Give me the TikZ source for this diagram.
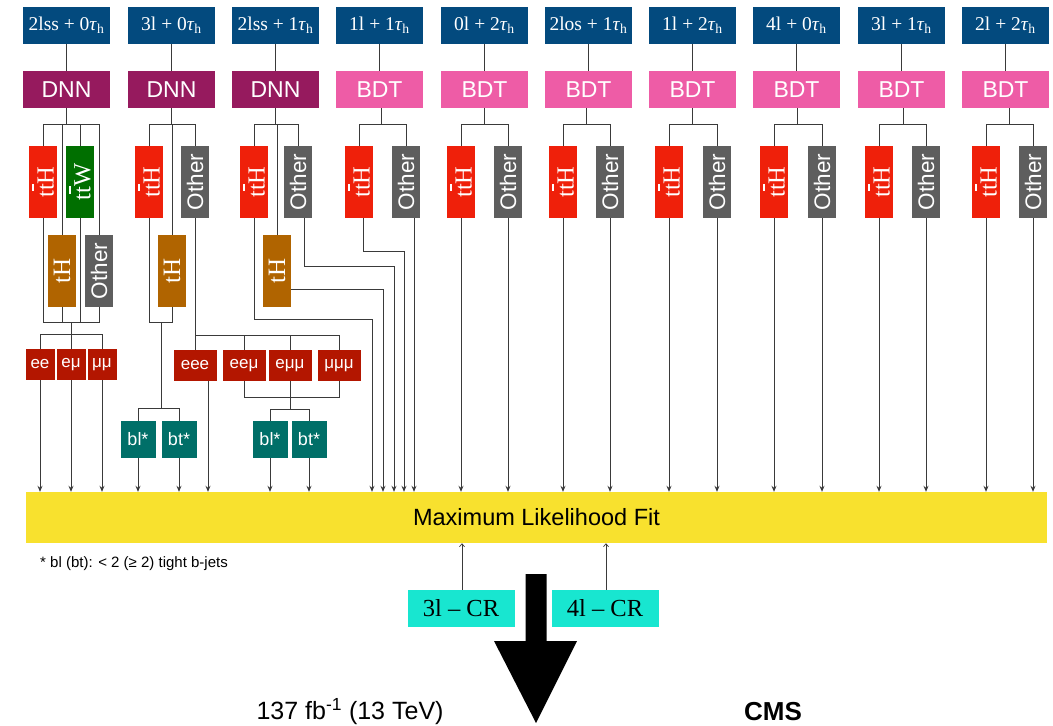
\documentclass[tikz,border=0pt]{standalone}
\usepackage{fontspec}
\setmainfont{Liberation Serif}
\setsansfont{Liberation Sans}
\usetikzlibrary{arrows.meta}
\definecolor{catblue}{HTML}{034A7E}
\definecolor{dnnc}{HTML}{961A5E}
\definecolor{bdtc}{HTML}{EE5CA6}
\definecolor{tthc}{HTML}{EF200A}
\definecolor{ttwc}{HTML}{006F00}
\definecolor{thc}{HTML}{B06400}
\definecolor{othc}{HTML}{5E5E5E}
\definecolor{lepc}{HTML}{B31600}
\definecolor{bjc}{HTML}{006F68}
\definecolor{fitc}{HTML}{F8E12E}
\definecolor{crc}{HTML}{18E6D0}
\definecolor{linec}{HTML}{3A3A3A}
\newcommand\tbar{\rlap{\raisebox{0.8em}{\rule{0.3em}{0.07em}}}t}
\newcommand\tauh{\textit{τ}\textsubscript{h}}
\begin{document}
\begin{tikzpicture}[x=1pt,y=-1pt,
  catbox/.style={fill=catblue, text=white, minimum width=87, minimum height=37, inner sep=0, font=\fontsize{19.5}{20}\selectfont},
  dnnbox/.style={fill=dnnc, text=white, minimum width=87, minimum height=37, inner sep=0, font=\sffamily\fontsize{23}{24}\selectfont},
  bdtbox/.style={dnnbox, fill=bdtc},
  vbox/.style={minimum width=28, minimum height=72, inner sep=0, text=white},
  tthbox/.style={vbox, fill=tthc, font=\fontsize{24.5}{25}\selectfont},
  ttwbox/.style={vbox, fill=ttwc, font=\fontsize{24.5}{25}\selectfont},
  thbox/.style={vbox, fill=thc, font=\fontsize{25}{25}\selectfont},
  othbox/.style={vbox, fill=othc, font=\sffamily\fontsize{22.5}{23}\selectfont},
  lepbox/.style={fill=lepc, text=white, minimum height=31, inner sep=0, font=\sffamily\fontsize{17}{17}\selectfont},
  bjbox/.style={fill=bjc, text=white, minimum width=35, minimum height=37, inner sep=0, font=\sffamily\fontsize{18}{18}\selectfont},
  crbox/.style={fill=crc, text=black, minimum width=107, minimum height=37, inner sep=0, font=\fontsize{24.5}{25}\selectfont},
  ln/.style={draw=linec, line width=1pt},
  arr/.style={ln, -{Stealth[length=6pt,width=5pt]}},
  crarr/.style={ln, line width=0.7pt, -{Straight Barb[length=3pt,width=5pt]}}
]
\useasboundingbox (0,0) rectangle (1053,726);

% fit bar
\node[fill=fitc, minimum width=1021, minimum height=51, inner sep=0, font=\sffamily\fontsize{23.5}{24}\selectfont] (fit) at (536.5,517.5) {Maximum Likelihood Fit};

% category boxes
\node[catbox] (c1) at (66.5,25.5) {2lss + 0\tauh};
\node[catbox] (c2) at (171.5,25.5) {3l + 0\tauh};
\node[catbox] (c3) at (275.5,25.5) {2lss + 1\tauh};
\node[catbox] (c4) at (379.5,25.5) {1l + 1\tauh};
\node[catbox] (c5) at (484.5,25.5) {0l + 2\tauh};
\node[catbox] (c6) at (588.5,25.5) {2los + 1\tauh};
\node[catbox] (c7) at (692.5,25.5) {1l + 2\tauh};
\node[catbox] (c8) at (796.5,25.5) {4l + 0\tauh};
\node[catbox] (c9) at (901.5,25.5) {3l + 1\tauh};
\node[catbox] (c10) at (1005.5,25.5) {2l + 2\tauh};

% MVA boxes
\node[dnnbox] (m1) at (66.5,89.5) {DNN};
\node[dnnbox] (m2) at (171.5,89.5) {DNN};
\node[dnnbox] (m3) at (275.5,89.5) {DNN};
\node[bdtbox] (m4) at (379.5,89.5) {BDT};
\node[bdtbox] (m5) at (484.5,89.5) {BDT};
\node[bdtbox] (m6) at (588.5,89.5) {BDT};
\node[bdtbox] (m7) at (692.5,89.5) {BDT};
\node[bdtbox] (m8) at (796.5,89.5) {BDT};
\node[bdtbox] (m9) at (901.5,89.5) {BDT};
\node[bdtbox] (m10) at (1005.5,89.5) {BDT};

\foreach \i in {1,...,10} { \draw[ln] (c\i) -- (m\i); }

% joints under MVA
\coordinate (j1) at (66.5,124);
\coordinate (j2) at (171.5,124);
\coordinate (j3) at (275.5,124);
\coordinate (j4) at (381,124);
\coordinate (j5) at (484.5,124);
\coordinate (j6) at (586,124);
\coordinate (j7) at (692.5,124);
\coordinate (j8) at (797,124);
\coordinate (j9) at (903,124);
\coordinate (j10) at (1009,124);
\foreach \i in {1,...,10} { \draw[ln] (m\i.south -| j\i) -- (j\i); }

% node classes
\node[tthbox] (a1) at (43,182) {\rotatebox{90}{t\tbar H}};
\node[ttwbox] (w1) at (80,182) {\rotatebox{90}{t\tbar W}};
\node[thbox] (h1) at (62,271) {\rotatebox{90}{tH}};
\node[othbox] (o1) at (99,271) {\rotatebox{90}{Other}};

\node[tthbox] (a2) at (149,182) {\rotatebox{90}{t\tbar H}};
\node[othbox] (o2) at (195,182) {\rotatebox{90}{Other}};
\node[thbox] (h2) at (172,271) {\rotatebox{90}{tH}};

\node[tthbox] (a3) at (254,182) {\rotatebox{90}{t\tbar H}};
\node[othbox] (o3) at (298,182) {\rotatebox{90}{Other}};
\node[thbox] (h3) at (277,271) {\rotatebox{90}{tH}};

\node[tthbox] (a4) at (359,182) {\rotatebox{90}{t\tbar H}};
\node[othbox] (o4) at (406,182) {\rotatebox{90}{Other}};
\node[tthbox] (a5) at (461,182) {\rotatebox{90}{t\tbar H}};
\node[othbox] (o5) at (508,182) {\rotatebox{90}{Other}};
\node[tthbox] (a6) at (563,182) {\rotatebox{90}{t\tbar H}};
\node[othbox] (o6) at (610,182) {\rotatebox{90}{Other}};
\node[tthbox] (a7) at (669,182) {\rotatebox{90}{t\tbar H}};
\node[othbox] (o7) at (717,182) {\rotatebox{90}{Other}};
\node[tthbox] (a8) at (774,182) {\rotatebox{90}{t\tbar H}};
\node[othbox] (o8) at (822,182) {\rotatebox{90}{Other}};
\node[tthbox] (a9) at (879,182) {\rotatebox{90}{t\tbar H}};
\node[othbox] (o9) at (926,182) {\rotatebox{90}{Other}};
\node[tthbox] (a10) at (986,182) {\rotatebox{90}{t\tbar H}};
\node[othbox] (o10) at (1033,182) {\rotatebox{90}{Other}};

% tree from MVA
\foreach \n/\j in {a1/j1,w1/j1,h1/j1,o1/j1,a2/j2,o2/j2,h2/j2,a3/j3,o3/j3,h3/j3,
  a4/j4,o4/j4,a5/j5,o5/j5,a6/j6,o6/j6,a7/j7,o7/j7,a8/j8,o8/j8,a9/j9,o9/j9,a10/j10,o10/j10}
  { \draw[ln] (\n.north) |- (\j); }

% 2lss+0tau: lepton flavours
\node[lepbox, minimum width=29] (ee) at (40,364.5) {ee};
\node[lepbox, minimum width=29] (em) at (71,364.5) {eμ};
\node[lepbox, minimum width=29] (mm) at (102,364.5) {μμ};
\coordinate (k1) at (71,322);
\coordinate (l1) at (71,334);
\foreach \n in {a1,h1,w1,o1} { \draw[ln] (\n.south) |- (k1); }
\draw[ln] (k1) -- (l1);
\foreach \n in {ee,em,mm} { \draw[ln] (\n.north) |- (l1); }

% 3l+0tau
\coordinate (k2) at (161,322);
\coordinate (l2) at (161,408);
\draw[ln] (a2.south) |- (k2);
\draw[ln] (h2.south) |- (k2);
\draw[ln] (k2) -- (l2);
\node[bjbox] (bl2) at (138,439.5) {bl*};
\node[bjbox] (bt2) at (179,439.5) {bt*};
\draw[ln] (bl2.north) |- (l2);
\draw[ln] (bt2.north) |- (l2);

\node[lepbox, minimum width=43] (eee) at (195,365.5) {eee};
\node[lepbox, minimum width=43] (eem) at (244,365.5) {eeμ};
\node[lepbox, minimum width=43] (emm) at (290,365.5) {eμμ};
\node[lepbox, minimum width=43] (mmm) at (339,365.5) {μμμ};
\coordinate (p2) at (195,335);
\draw[ln] (o2.south) -- (eee.north);
\foreach \n in {eem,emm,mmm} { \draw[ln] (\n.north) |- (p2); }
\coordinate (q2) at (290,397);
\coordinate (r2) at (290,409);
\draw[ln] (eem.south) |- (q2);
\draw[ln] (mmm.south) |- (q2);
\draw[ln] (emm.south) -- (r2);
\node[bjbox] (bl3) at (270,439.5) {bl*};
\node[bjbox] (bt3) at (309,439.5) {bt*};
\draw[ln] (bl3.north) |- (r2);
\draw[ln] (bt3.north) |- (r2);

% arrows into fit
\foreach \n in {ee,em,mm,bl2,bt2,bl3,bt3,a5,o5,a6,o6,a7,o7,a8,o8,a9,o9,a10,o10}
  { \draw[arr] (\n.south) -- (\n.south |- fit.north); }
\draw[arr] ([xshift=13]eee.south) -- ([xshift=13]eee.south |- fit.north);

% 2lss+1tau and 1l+1tau routing
\coordinate (t1) at (372,319);
\coordinate (t2) at (383,289);
\coordinate (t3) at (394,266);
\coordinate (t4) at (404,251);
\draw[arr] (a3.south) |- (t1) -- (t1 |- fit.north);
\draw[arr] ([yshift=-18]h3.east) -- (t2) -- (t2 |- fit.north);
\draw[arr] ([xshift=6]o3.south) |- (t3) -- (t3 |- fit.north);
\draw[arr] ([xshift=4]a4.south) |- (t4) -- (t4 |- fit.north);
\draw[arr] ([xshift=8]o4.south) -- ([xshift=8]o4.south |- fit.north);

% control regions
\node[crbox] (cr3) at (461,608.5) {3l -- CR};
\node[crbox] (cr4) at (605,608.5) {4l -- CR};
\draw[crarr] ([xshift=1]cr3.north) -- ([xshift=1]cr3.north |- fit.south);
\draw[crarr] ([xshift=1]cr4.north) -- ([xshift=1]cr4.north |- fit.south);

% footnote
\node[anchor=west, inner sep=0, font=\sffamily\fontsize{15}{15}\selectfont] (note) at (40,564) {* bl (bt): < 2 (≥ 2) tight b-jets};

% big arrow
\fill[black] (525.5,574) -- (546.5,574) -- (546.5,641) -- (577,641) -- (536,723) -- (494,641) -- (525.5,641) -- cycle;

% bottom labels
\node[anchor=base, inner sep=0, font=\sffamily\fontsize{25}{25}\selectfont] (lumi) at (350,719.5) {137 fb\textsuperscript{-1} (13 TeV)};
\node[anchor=base, inner sep=0, font=\sffamily\bfseries\fontsize{26}{26}\selectfont] (cms) at (773,720.5) {CMS};
\end{tikzpicture}
\end{document}
